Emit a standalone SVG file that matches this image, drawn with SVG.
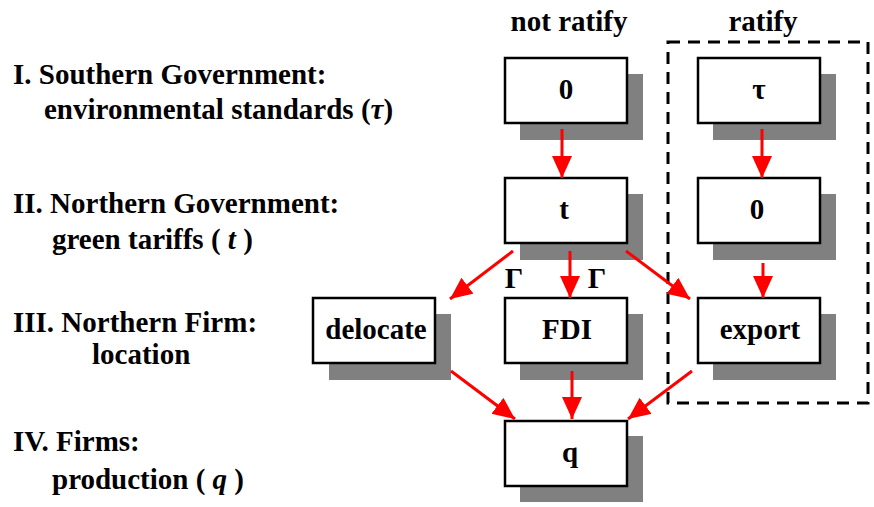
<svg xmlns="http://www.w3.org/2000/svg" width="874" height="507" viewBox="0 0 874 507">
  <style>
    text { font-weight: bold; fill: #000; font-size: 29px; }
    .mid { text-anchor: middle; }
    .shadow { fill: #808080; }
    .box { fill: #fff; stroke: #000; stroke-width: 2.5; }
    .arrow { stroke: #ff0000; stroke-width: 3; fill: none; marker-end: url(#head); }
    .frame { fill: none; stroke: #000; stroke-width: 3; stroke-dasharray: 12 8; }
  </style>
  <defs>
    <marker id="head" markerUnits="userSpaceOnUse" markerWidth="24" markerHeight="22" refX="22" refY="10" orient="auto">
      <path d="M0,0 L22,10 L0,20 z" fill="#ff0000"/>
    </marker>
  </defs>

  <rect width="874" height="507" fill="#fff"/>

  <g font-family="'Liberation Serif', 'Times New Roman', serif">
  <!-- stage labels -->
  <g id="stage-labels">
    <text x="13" y="84">I. Southern Government:</text>
    <text x="44" y="119">environmental standards (<tspan font-style="italic">τ</tspan>)</text>
    <text x="13" y="213">II. Northern Government:</text>
    <text x="52" y="249">green tariffs ( <tspan font-style="italic">t</tspan> )</text>
    <text x="13" y="332">III. Northern Firm:</text>
    <text x="92" y="364">location</text>
    <text x="13" y="451">IV. Firms:</text>
    <text x="52" y="489">production ( <tspan font-style="italic">q</tspan> )</text>
  </g>

  <!-- column headings -->
  <g id="headings">
    <text class="mid" x="569" y="31">not ratify</text>
    <text class="mid" x="763" y="31">ratify</text>
  </g>

  <!-- ratify branch frame -->
  <rect id="ratify-frame" class="frame" x="668" y="42" width="200" height="361"/>

  <!-- nodes -->
  <g id="s-zero">
    <rect class="shadow" x="520" y="74" width="123" height="66"/>
    <rect class="box" x="505" y="58" width="122" height="65"/>
    <text class="mid" x="566" y="99">0</text>
  </g>
  <g id="s-tau">
    <rect class="shadow" x="713" y="74" width="123" height="66"/>
    <rect class="box" x="698" y="58" width="122" height="65"/>
    <text class="mid" x="759" y="99">τ</text>
  </g>
  <g id="n-t">
    <rect class="shadow" x="520" y="194" width="123" height="66"/>
    <rect class="box" x="505" y="178" width="122" height="65"/>
    <text class="mid" x="564" y="219">t</text>
  </g>
  <g id="n-zero">
    <rect class="shadow" x="713" y="194" width="123" height="66"/>
    <rect class="box" x="698" y="178" width="122" height="65"/>
    <text class="mid" x="757" y="219">0</text>
  </g>
  <g id="delocate">
    <rect class="shadow" x="329" y="314" width="122" height="66"/>
    <rect class="box" x="313" y="298" width="122" height="65"/>
    <text class="mid" x="376" y="339">delocate</text>
  </g>
  <g id="fdi">
    <rect class="shadow" x="520" y="314" width="123" height="66"/>
    <rect class="box" x="505" y="298" width="122" height="65"/>
    <text class="mid" x="567" y="339">FDI</text>
  </g>
  <g id="export">
    <rect class="shadow" x="713" y="314" width="123" height="66"/>
    <rect class="box" x="698" y="298" width="122" height="65"/>
    <text class="mid" x="760" y="339">export</text>
  </g>
  <g id="q">
    <rect class="shadow" x="520" y="436" width="123" height="66"/>
    <rect class="box" x="505" y="421" width="122" height="65"/>
    <text class="mid" x="570" y="462">q</text>
  </g>

  <!-- connectors -->
  <g id="connectors">
    <line class="arrow" x1="562" y1="129" x2="562" y2="178"/>
    <line class="arrow" x1="762" y1="129" x2="762" y2="178"/>
    <line class="arrow" x1="513" y1="251" x2="450" y2="299"/>
    <line class="arrow" x1="570" y1="251" x2="570" y2="298"/>
    <line class="arrow" x1="626" y1="251" x2="690" y2="299"/>
    <line class="arrow" x1="763" y1="263" x2="763" y2="298"/>
    <line class="arrow" x1="451" y1="371" x2="515" y2="419"/>
    <line class="arrow" x1="572" y1="371" x2="572" y2="419"/>
    <line class="arrow" x1="692" y1="371" x2="628" y2="419"/>
    <text class="mid" x="514" y="288">Γ</text>
    <text class="mid" x="597" y="288">Γ</text>
  </g>
  </g>
</svg>
